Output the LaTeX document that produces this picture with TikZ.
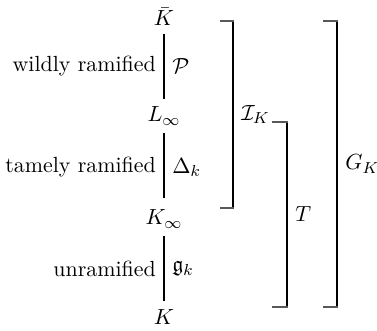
\documentclass[tikz,border=0pt,11pt]{standalone}
\usepackage{amsmath,amssymb}
\usepackage{tikz}
\usetikzlibrary{positioning}

\begin{document}
\begin{tikzpicture}[x=1pt,y=1pt,line width=1pt,arm/.style={line width=0.6pt,black!65}]
    \useasboundingbox (0,0) rectangle (188.5,-165.5);
    % tower of fields
    \node (kbar) at (82,-8.5) {$\bar{K}$};
    \node (linf) at (82,-58) {$L_\infty$};
    \node (kinf) at (82,-109.5) {$K_\infty$};
    \node (k) at (82,-158.5) {$K$};
    \draw (kbar) -- node[left]{wildly ramified} node[right]{$\mathcal{P}$} (linf);
    \draw[shorten >=2pt] (linf) -- node[left]{tamely ramified} node[right]{$\Delta_k$} (kinf);
    \draw (kinf) -- node[left]{unramified} node[right]{$\mathfrak{g}_k$} (k);
    % brackets for the groups
    \coordinate (inert top) at (110,-10.5);
    \coordinate (inert bot) at (110,-104);
    \coordinate (tame top) at (136,-61);
    \coordinate (tame bot) at (136,-153.5);
    \coordinate (gal top) at (161.5,-10.5);
    \coordinate (gal bot) at (161.5,-153.5);
    \draw (inert top) ++(6.5,0) -- node[right]{$\mathcal{I}_K$} ++(0,-93.5);
    \draw[arm] (inert top) -- ++(6.8,0) (inert bot) -- ++(6.8,0);
    \draw (tame top) ++(7.5,0) -- node[right]{$T$} ++(0,-92.5);
    \draw[arm] (tame top) -- ++(7.8,0) (tame bot) -- ++(7.8,0);
    \draw (gal top) ++(7,0) -- node[right]{$G_K$} ++(0,-143);
    \draw[arm] (gal top) -- ++(7.3,0) (gal bot) -- ++(7.3,0);
  \end{tikzpicture}
\end{document}
